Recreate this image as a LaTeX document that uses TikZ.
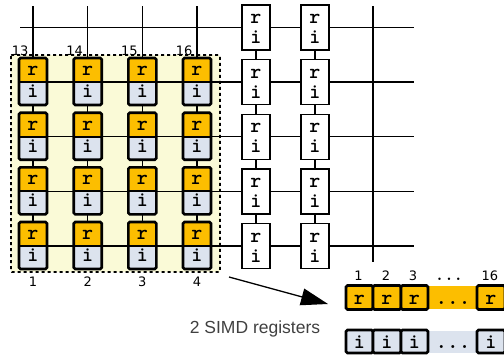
\documentclass[tikz,border=0pt]{standalone}
\usepackage{fontspec}
\setmainfont{DejaVu Sans}
\newfontfamily\sansA{Liberation Sans}
\usetikzlibrary{arrows.meta}
\definecolor{regor}{RGB}{252,190,0}
\definecolor{regbl}{RGB}{220,227,238}
\definecolor{padyel}{RGB}{250,250,215}
\definecolor{txtgray}{RGB}{64,64,64}
\begin{document}
\begin{tikzpicture}[x=1pt,y=-1pt,
  gridline/.style={line width=1.3pt},
  celltext/.style={inner sep=0pt,anchor=base,font=\ttfamily\bfseries\fontsize{21}{21}\selectfont},
  numlab/.style={inner sep=0pt,font=\fontsize{13}{13}\selectfont},
  whitecell/.style={draw,fill=white,line width=1.4pt,minimum width=28pt,minimum height=45pt,inner sep=0pt},
  thickborder/.style={line width=2.6pt,rounded corners=1.5pt}]
\useasboundingbox (0,0) rectangle (504,360);
% padded region
\draw[fill=padyel,line width=1.8pt,dash pattern=on 3pt off 3pt,rounded corners=1pt] (11,55) rectangle (220,272);
% grid lines
\foreach \ry in {27.3,82,136.7,191.3,246}{
  \draw[gridline] (20,\ry) -- (414,\ry);
}
\foreach \cx in {33,87.7,142.3,197,256,315,373}{
  \draw[gridline] (\cx,6) -- (\cx,262);
}
% yellow cells
\foreach \cx [count=\ci] in {33,87.7,142.3,197}{
  \foreach \ry [count=\ri] in {82,136.7,191.3,246}{
    \fill[regor] (\cx-14,\ry-24) rectangle (\cx+14,\ry);
    \fill[regbl] (\cx-14,\ry) rectangle (\cx+14,\ry+23);
    \draw[line width=2pt] (\cx-14,\ry) -- (\cx+14,\ry);
    \draw[thickborder] (\cx-14,\ry-24) rectangle (\cx+14,\ry+23);
    \node[celltext] (yr\ci\ri) at (\cx,\ry-6.5) {r};
    \node[celltext] (yi\ci\ri) at (\cx,\ry+15.5) {i};
  }
}
% white cells
\foreach \cx [count=\ci] in {256,315}{
  \foreach \ry [count=\ri] in {27.3,82,136.7,191.3,246}{
    \node[whitecell] (w\ci\ri) at (\cx,\ry) {};
    \node[celltext] (wr\ci\ri) at (\cx,\ry-4) {r};
    \node[celltext] (wi\ci\ri) at (\cx,\ry+16) {i};
  }
}
% top labels
\node[numlab,anchor=base east] (t13) at (28.5,55) {13};
\node[numlab,anchor=base east] (t14) at (83.2,55) {14};
\node[numlab,anchor=base east] (t15) at (137.8,55) {15};
\node[numlab,anchor=base east] (t16) at (192.5,55) {16};
% bottom labels
\node[numlab] (b1) at (33,282) {1};
\node[numlab] (b2) at (87.7,282) {2};
\node[numlab] (b3) at (142.3,282) {3};
\node[numlab] (b4) at (197,282) {4};
% arrow
\coordinate (as) at (229,277);
\coordinate (ae) at (328,304);
\draw[line width=1.3pt,-{Triangle[length=27pt,width=17pt]}] (as) -- (ae);
% caption
\node[inner sep=0pt,font=\sansA\fontsize{17.5}{20}\selectfont,text=txtgray] (cap) at (255,329) {2 SIMD registers};
% register labels
\node[numlab] (l1) at (358.5,276) {1};
\node[numlab] (l2) at (386,276) {2};
\node[numlab] (l3) at (413,276) {3};
\node[celltext,font=\ttfamily\bfseries\fontsize{18}{18}\selectfont] (l4) at (449,280) {...};
\node[numlab] (l16) at (490,276) {16};
% r register
\fill[regor] (428,286) rectangle (477,309);
\node[celltext,font=\ttfamily\bfseries\fontsize{22}{22}\selectfont] (rdots) at (453,304) {...};
\foreach \xa/\xb [count=\k] in {346/373,373/401,401/428,477/505}{
  \fill[regor] (\xa,285.5) rectangle (\xb,309.5);
  \draw[thickborder] (\xa,285.5) rectangle (\xb,309.5);
  \node[celltext] (rr\k) at ({(\xa+\xb)/2},304) {r};
}
% i register
\fill[regbl] (428,330.5) rectangle (477,352.5);
\node[celltext,font=\ttfamily\bfseries\fontsize{22}{22}\selectfont] (idots) at (453,348) {...};
\foreach \xa/\xb [count=\k] in {346/373,373/401,401/428,477/505}{
  \fill[regbl] (\xa,330) rectangle (\xb,353);
  \draw[thickborder] (\xa,330) rectangle (\xb,353);
  \node[celltext] (ri\k) at ({(\xa+\xb)/2},348) {i};
}
\end{tikzpicture}
\end{document}
